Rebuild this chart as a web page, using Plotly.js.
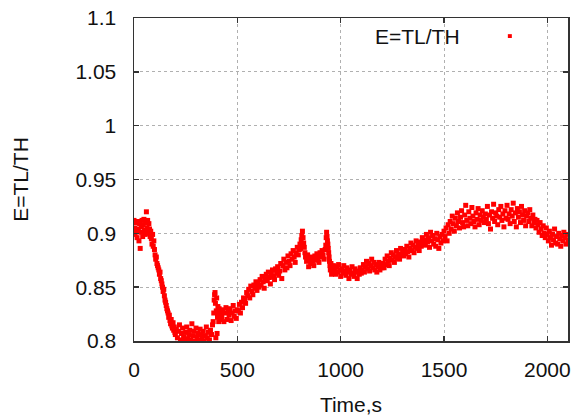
<!DOCTYPE html>
<html>
<head>
<meta charset="utf-8">
<script src="https://cdn.plot.ly/plotly-3.0.1.min.js"></script>
<style>html,body{margin:0;padding:0;background:#fff;}#chart{width:573px;height:416px;}</style>
</head>
<body>
<div id="chart"></div>
<script>
// Time, s
const timeA = [0,3,6,9,12,15,18,21,24,27,30,33,36,39,42,45,48,51,54,57,60,63,66,69,72,75,78,81,84,87,90,93,96,99];
const effA  = [0.912,0.905,0.899,0.910,0.902,0.896,0.911,0.904,0.893,0.909,0.886,0.901,0.906,0.912,0.897,0.908,0.913,0.903,0.899,0.910,0.920,0.905,0.912,0.900,0.909,0.904,0.897,0.902,0.895,0.890,0.899,0.888,0.893,0.885];
const timeB = [102,105,108,111,114,117,120,123,126,129,132,135,138,141,144,147,150,153,156,159,162,165,168,171,174,177,180,183,186,189,192,195,198];
const effB  = [0.880,0.876,0.878,0.872,0.870,0.868,0.866,0.862,0.864,0.858,0.856,0.853,0.850,0.846,0.848,0.842,0.838,0.836,0.833,0.830,0.828,0.826,0.822,0.824,0.819,0.816,0.820,0.814,0.812,0.817,0.810,0.813,0.808];
const timeC = [200,205,210,215,220,225,230,235,240,245,250,255,260,265,270,275,280,285,290,295,300,305,310,315,320,325,330,335,340,345,350,355,360,365,370,375,380];
const effC  = [0.806,0.811,0.803,0.809,0.815,0.801,0.807,0.812,0.804,0.800,0.808,0.813,0.802,0.806,0.810,0.801,0.816,0.805,0.809,0.800,0.812,0.804,0.807,0.801,0.811,0.806,0.802,0.809,0.800,0.805,0.813,0.803,0.808,0.801,0.810,0.806,0.815];
const timeD = [383,386,388,390,392,394,396,398,400,402,404,406,408,410,412,414,416,418,420];
const effD  = [0.818,0.826,0.838,0.843,0.845,0.835,0.803,0.828,0.840,0.807,0.822,0.832,0.825,0.818,0.830,0.823,0.828,0.820,0.826];
const timeE = [425,430,435,440,445,450,455,460,465,470,475,480,485,490,495,500];
const effE  = [0.822,0.829,0.818,0.826,0.831,0.820,0.827,0.824,0.830,0.819,0.826,0.833,0.823,0.828,0.821,0.829];
const timeF = [505,510,515,520,525,530,535,540,545,550,555,560,565,570,575,580,585,590,595,600];
const effF  = [0.828,0.834,0.826,0.836,0.831,0.840,0.838,0.835,0.845,0.842,0.848,0.840,0.851,0.846,0.843,0.852,0.849,0.855,0.847,0.853];
const timeG = [605,610,615,620,625,630,635,640,645,650,655,660,665,670,675,680,685,690,695,700];
const effG  = [0.850,0.857,0.852,0.860,0.855,0.849,0.858,0.862,0.856,0.864,0.859,0.853,0.862,0.866,0.860,0.857,0.867,0.863,0.869,0.861];
const timeH = [705,710,715,720,725,730,735,740,745,750,755,760,765,770,775,780,785,790,795,800];
const effH  = [0.865,0.872,0.858,0.870,0.876,0.866,0.873,0.868,0.879,0.874,0.870,0.881,0.876,0.884,0.878,0.873,0.882,0.887,0.880,0.885];
const timeI = [803,806,809,812,815,818,821,824,827,830];
const effI  = [0.890,0.886,0.894,0.898,0.902,0.896,0.891,0.887,0.882,0.878];
const timeJ = [835,840,845,850,855,860,865,870,875,880,885,890,895,900,905,910,915,920,925];
const effJ  = [0.874,0.880,0.869,0.876,0.872,0.878,0.874,0.870,0.879,0.875,0.881,0.877,0.873,0.882,0.878,0.884,0.880,0.876,0.885];
const timeK = [928,930,932,934,936,938,940,942,944,946,948,950,953,956,959,962,965];
const effK  = [0.889,0.896,0.901,0.897,0.893,0.890,0.886,0.882,0.878,0.874,0.870,0.866,0.872,0.862,0.868,0.864,0.870];
const timeL = [970,975,980,985,990,995,1000,1005,1010,1015,1020,1025,1030,1035,1040,1045,1050,1055,1060,1065,1070,1075,1080,1085,1090,1095,1100];
const effL  = [0.866,0.862,0.869,0.864,0.871,0.866,0.860,0.867,0.863,0.870,0.865,0.861,0.868,0.864,0.858,0.866,0.862,0.869,0.863,0.860,0.867,0.864,0.858,0.865,0.862,0.868,0.863];
const timeM = [1105,1110,1115,1120,1125,1130,1135,1140,1145,1150,1155,1160,1165,1170,1175,1180,1185,1190,1195,1200];
const effM  = [0.866,0.871,0.864,0.869,0.874,0.867,0.872,0.865,0.870,0.876,0.868,0.873,0.866,0.871,0.864,0.869,0.873,0.866,0.870,0.868];
const timeN = [1205,1210,1215,1220,1225,1230,1235,1240,1245,1250,1255,1260,1265,1270,1275,1280,1285,1290,1295,1300];
const effN  = [0.872,0.868,0.876,0.871,0.879,0.874,0.870,0.877,0.882,0.875,0.880,0.873,0.878,0.884,0.877,0.881,0.876,0.886,0.880,0.883];
const timeO = [1305,1310,1315,1320,1325,1330,1335,1340,1345,1350,1355,1360,1365,1370,1375,1380,1385,1390,1395,1400];
const effO  = [0.879,0.885,0.881,0.888,0.883,0.878,0.886,0.891,0.884,0.889,0.882,0.887,0.893,0.886,0.890,0.884,0.892,0.888,0.896,0.890];
const timeP = [1405,1410,1415,1420,1425,1430,1435,1440,1445,1450,1455,1460,1465,1470,1475,1480,1485,1490,1495,1500];
const effP  = [0.894,0.889,0.899,0.892,0.896,0.887,0.901,0.893,0.898,0.890,0.895,0.888,0.900,0.894,0.886,0.897,0.891,0.899,0.893,0.902];
const timeQ = [1505,1510,1515,1520,1525,1530,1535,1540,1545,1550,1555,1560,1565,1570,1575,1580,1585,1590,1595,1600];
const effQ  = [0.897,0.905,0.893,0.908,0.900,0.911,0.904,0.916,0.909,0.902,0.914,0.907,0.919,0.911,0.905,0.915,0.921,0.910,0.906,0.917];
const timeR = [1605,1610,1615,1620,1625,1630,1635,1640,1645,1650,1655,1660,1665,1670,1675,1680,1685,1690,1695,1700];
const effR  = [0.926,0.912,0.907,0.920,0.914,0.909,0.924,0.916,0.911,0.906,0.919,0.913,0.923,0.908,0.917,0.912,0.921,0.915,0.910,0.918];
const timeS = [1705,1710,1715,1720,1725,1730,1735,1740,1745,1750,1755,1760,1765,1770,1775,1780,1785,1790,1795,1800];
const effS  = [0.913,0.925,0.909,0.917,0.904,0.920,0.914,0.927,0.911,0.919,0.916,0.908,0.922,0.915,0.925,0.912,0.918,0.906,0.921,0.914];
const timeT = [1805,1810,1815,1820,1825,1830,1835,1840,1845,1850,1855,1860,1865,1870,1875,1880,1885,1890,1895,1900];
const effT  = [0.926,0.913,0.918,0.909,0.922,0.916,0.928,0.911,0.919,0.906,0.923,0.915,0.920,0.910,0.925,0.917,0.912,0.921,0.907,0.916];
const timeU = [1905,1910,1915,1920,1925,1930,1935,1940,1945,1950,1955,1960,1965,1970,1975,1980,1985,1990,1995,2000];
const effU  = [0.919,0.911,0.922,0.914,0.907,0.917,0.910,0.913,0.905,0.912,0.908,0.901,0.910,0.904,0.898,0.907,0.900,0.896,0.905,0.899];
const timeV = [2005,2010,2015,2020,2025,2030,2035,2040,2045,2050,2055,2060,2065,2070,2075,2080,2085,2090,2095,2100];
const effV  = [0.893,0.902,0.896,0.889,0.899,0.894,0.904,0.891,0.897,0.890,0.900,0.895,0.888,0.898,0.893,0.901,0.896,0.890,0.899,0.894];

const xTickVals = [0, 500, 1000, 1500, 2000];
const xTickText = ["0", "500", "1000", "1500", "2000"];
const yTickVals = [0.8, 0.85, 0.9, 0.95, 1.0, 1.05, 1.1];
const yTickText = ["0.8", "0.85", "0.9", "0.95", "1", "1.05", "1.1"];
const seriesName = "E=TL/TH";

const time = [].concat(timeA,timeB,timeC,timeD,timeE,timeF,timeG,timeH,timeI,timeJ,timeK,timeL,timeM,timeN,timeO,timeP,timeQ,timeR,timeS,timeT,timeU,timeV);
const eff  = [].concat(effA,effB,effC,effD,effE,effF,effG,effH,effI,effJ,effK,effL,effM,effN,effO,effP,effQ,effR,effS,effT,effU,effV);

const FONT = "Liberation Sans, Arial, sans-serif";
const FS = 21;
const axisCommon = {
  showline: true, linecolor: "#333", linewidth: 1.5, mirror: "ticks",
  ticks: "inside", ticklen: 5, tickcolor: "#333", tickwidth: 1.5,
  showgrid: true, gridcolor: "#b0b0b0", gridwidth: 1, griddash: "3px,3px",
  zeroline: false, tickfont: {family: FONT, size: FS, color: "#111"}
};

const trace = {
  x: time, y: eff, type: "scatter", mode: "markers", name: seriesName,
  marker: {symbol: "square", size: 5, color: "#ff0000"}, showlegend: false
};

const layout = {
  width: 573, height: 416,
  margin: {l: 134, r: 5, t: 18, b: 75},
  paper_bgcolor: "#fff", plot_bgcolor: "#fff",
  font: {family: FONT, size: FS, color: "#111"},
  xaxis: Object.assign({}, axisCommon, {
    range: [0, 2100], tickmode: "array", tickvals: xTickVals, ticktext: xTickText,
    ticklabelstandoff: 9,
    title: {text: "Time,s", font: {family: FONT, size: FS, color: "#111"}, standoff: 18}
  }),
  yaxis: Object.assign({}, axisCommon, {
    range: [0.8, 1.1], tickmode: "array", tickvals: yTickVals, ticktext: yTickText,
    ticklabelstandoff: 12,
    title: {text: "E=TL/TH", font: {family: FONT, size: FS, color: "#111"}, standoff: 41}
  }),
  annotations: [{
    xref: "paper", yref: "paper", x: 0.755, y: 0.944, xanchor: "right", yanchor: "middle",
    text: seriesName, showarrow: false, font: {family: FONT, size: FS, color: "#111"}
  }],
  shapes: [{
    type: "rect", xref: "paper", yref: "paper",
    x0: 0.8614, x1: 0.8706, y0: 0.938, y1: 0.950,
    fillcolor: "#ff0000", line: {width: 0}
  }]
};

Plotly.newPlot("chart", [trace], layout, {displayModeBar: false, staticPlot: true});
</script>
</body>
</html>
